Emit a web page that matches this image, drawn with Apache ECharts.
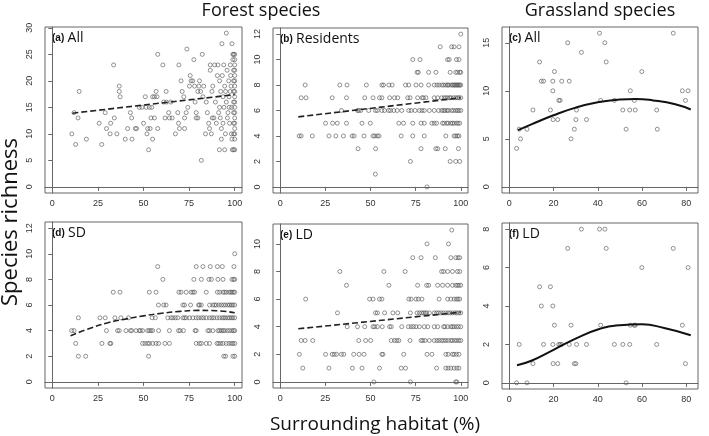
<!DOCTYPE html>
<html>
<head>
<meta charset="utf-8">
<script src="https://cdn.jsdelivr.net/npm/echarts@6/dist/echarts.min.js"></script>
<style>
  html, body {margin: 0; padding: 0; background: #fff;}
  #main {width: 709px; height: 436px;}
</style>
</head>
<body>
<div id="main"></div>
<script>
// forest sites: surrounding habitat (%) vs species richness
var forestAll = [
  [10.7,10],[12.8,8],[14.1,13],[14.7,18],[11.9,14],[18.7,9],[25.7,12],[27.1,8],[29,14],[29.7,11],
  [31.7,10],[32,12],[33.6,23],[34,13],[35.4,10],[36.7,19],[36.7,18],[37.2,17],[40,9],[41.3,11],
  [42.8,14],[43.5,13],[43.7,9],[45.5,11],[46.2,11],[47.7,15],[49.2,15],[50,12],[51,17],[51.4,15],
  [51.9,10],[52.3,11],[52.8,7],[53.2,15],[53.6,11],[54.1,13],[54.5,15],[55,9],[55,17],[56,17],
  [56.9,18],[57.4,17],[57.8,25],[57.8,11],[56,13],[60.6,23],[61.8,13],[62.4,18],[61,16],[62.6,16],
  [63.8,14],[64.2,13],[65.7,13],[65,16],[67.5,10],[68.8,14],[69.2,12],[69.4,23],[69.7,11],[70.6,20],
  [71.2,18],[72.1,17],[72.5,11],[72.5,13],[73.4,14],[73.8,26],[74.3,15],[75.2,19],[75.6,21],[76.1,20],
  [77,20],[77.6,24],[78,19],[78.3,16],[78.9,13],[78.9,14],[79.8,13],[79.8,18],[80.4,19],[80.7,20],
  [81.3,18],[81.7,5],[82.2,25],[82.6,17],[83,19],[84,10],[84.4,16],[85,14],[85.7,12],[86.2,11],
  [86.6,22],[86.6,23],[87.2,10],[87.5,18],[87.7,13],[88,19],[88.6,13],[89,23],[89.4,16],[89.9,12],
  [90.5,21],[90.8,23],[91.2,14],[91.6,7],[91.7,20],[91.7,15],[92.1,13],[92.3,18],[92.7,11],[92.7,9],
  [93,27],[93.2,21],[93.6,17],[93.6,12],[94,23],[94.1,15],[94.5,7],[94.5,19],[94.9,10],[95,18],
  [95.4,29],[95.4,16],[95.8,22],[96,13],[96.3,14],[96.7,20],[96.9,17],[97.2,12],[97.6,23],[97.8,21],
  [98,19],[98.2,10],[98.3,15],[98.5,27],[98.5,9],[98.7,7],[99,25],[99,24],[97,15],[97.5,18],
  [99.4,22],[99.4,20],[99.4,18],[99.4,16],[99.4,14],[99.4,12],[99.4,10],[99.4,7],[99.4,25],
  [100,7],[100,9],[100,10],[100,11],[100,12],[100,13],[100,14],[100,15],[100,16],[100,17],
  [100,18],[100,19],[100,20],[100,21],[100,22],[100,23],[100,24],[100,25]
];
var forestResidents = [
  [100,12],[88.6,11],[94.9,11],[96.3,11],[99,11],
  [73.4,10],[77.4,10],[92.7,10],[93.6,10],[97.6,10],[99,10],
  [75.8,9],[76.5,9],[82.2,9],[86.2,9],[94.1,9],[97.2,9],[98.2,9],[99.4,9],[100,9],
  [13.8,8],[33,8],[37,8],[47.7,8],[56.3,8],[57.2,8],[60.2,8],[62,8],[69.4,8],[71.2,8],[75.2,8],[78,8],
  [82.2,8],[85.3,8],[86.8,8],[88,8],[89.5,8],[90.5,8],[91.7,8],[92.7,8],[93.2,8],[94.5,8],[95.4,8],
  [96,8],[96.7,8],[97.2,8],[97.8,8],[98.3,8],[98.9,8],[99.4,8],[100,8],
  [11.6,7],[14.3,7],[28.8,7],[36.7,7],[46.8,7],[51.4,7],[55,7],[56.3,7],[60.6,7],[63.3,7],[65.1,7],
  [70.6,7],[71.9,7],[76.1,7],[78.5,7],[79.3,7],[80.7,7],[85.3,7],[87.2,7],[89.4,7],[90.8,7],[91.7,7],
  [92.7,7],[93.9,7],[94.5,7],[96,7],[97.2,7],[98.2,7],[99,7],[100,7],
  [33.9,6],[42.8,6],[43.5,6],[44.6,6],[49,6],[52.8,6],[53.8,6],[56.3,6],[57.8,6],[60,6],[61.1,6],
  [62.9,6],[64.8,6],[67.3,6],[71.2,6],[72.5,6],[74.7,6],[77.1,6],[78.5,6],[79.8,6],[82.6,6],[85.3,6],
  [87.7,6],[89.4,6],[90.5,6],[91.2,6],[92.3,6],[93.2,6],[94.9,6],[96,6],[97.2,6],[98.2,6],[99,6],[100,6],
  [25.1,5],[29,5],[31.6,5],[36.7,5],[45.3,5],[49.9,5],[65.7,5],[68.3,5],[73.4,5],[78,5],[79.8,5],
  [84,5],[85.3,5],[86.6,5],[89.9,5],[90.8,5],[92.3,5],[93,5],[94.5,5],[95.4,5],[96.3,5],[97.6,5],
  [98.5,5],[99.4,5],
  [10.5,4],[11.6,4],[17.8,4],[27,4],[30.8,4],[35,4],[39.8,4],[40.9,4],[46.4,4],[51.4,4],[52.3,4],
  [53.8,4],[54.7,4],[67,4],[73.4,4],[79.8,4],[91.7,4],[96.3,4],[97.2,4],[98.2,4],[99,4],
  [43.1,3],[52.8,3],[78,3],[86.2,3],[87.2,3],[91.4,3],[98.7,3],
  [72.1,2],[94.1,2],[97.2,2],[99.4,2],
  [52.7,1],[81.3,0]
];
var forestSD = [
  [100,10],
  [57.8,9],[78.9,9],[82.6,9],[86.6,9],[90.5,9],[93.2,9],[99.6,9],
  [60.6,8],[77.6,8],[81.7,8],[85.9,8],[87.2,8],[90.8,8],[93.6,8],[98.5,8],[99.4,8],[100,8],
  [33.4,7],[37.1,7],[53.2,7],[56.9,7],[69.4,7],[70.6,7],[73.4,7],[76.1,7],[77.1,7],[78,7],[84.4,7],
  [90.5,7],[91.7,7],[93.6,7],[94.5,7],[95.4,7],[96.9,7],[97.8,7],[98.5,7],[99.3,7],[100,7],
  [58.2,6],[61.1,6],[62.4,6],[71.6,6],[72.5,6],[75.8,6],[80.2,6],[80.7,6],[81.7,6],[86.2,6],[88,6],
  [89,6],[89.9,6],[91.4,6],[92.7,6],[93.9,6],[95,6],[96.3,6],[97.2,6],[98.2,6],[99,6],[100,6],
  [14.3,5],[26.1,5],[29,5],[34.3,5],[37.6,5],[41.8,5],[54.7,5],[56.5,5],[63.3,5],[65.1,5],[66.1,5],
  [67.5,5],[68.8,5],[71.6,5],[72.5,5],[73.4,5],[75.2,5],[77.1,5],[78.9,5],[80.2,5],[81.7,5],[82.9,5],
  [84.4,5],[86.2,5],[87.5,5],[88.6,5],[90.3,5],[91.7,5],[93.2,5],[94.1,5],[95,5],[96.3,5],[97.2,5],
  [98.2,5],[99,5],[100,5],
  [10.6,4],[11.9,4],[29.7,4],[35.8,4],[36.7,4],[40.4,4],[42.8,4],[43.5,4],[45.9,4],[47.7,4],[48.3,4],
  [49.5,4],[52.3,4],[53.2,4],[54.1,4],[55,4],[58.3,4],[64.2,4],[69.2,4],[70.1,4],[71.9,4],[78.3,4],
  [78.9,4],[85.3,4],[86.2,4],[88,4],[90.8,4],[91.7,4],[92.7,4],[93.6,4],[94.5,4],[96,4],[97.2,4],
  [98.5,4],[99.4,4],[100,4],
  [12.8,3],[27.2,3],[31.6,3],[32.1,3],[49.5,3],[50.8,3],[52.3,3],[53.2,3],[55,3],[56.9,3],[58.3,3],
  [61.8,3],[64.2,3],[78.9,3],[80.7,3],[81.7,3],[84.4,3],[86.2,3],[90.3,3],[91.2,3],[92.3,3],[93.6,3],
  [95.4,3],[96.9,3],[98.2,3],[99,3],[100,3],
  [14.3,2],[18.3,2],[52.8,2],[94,2],[95,2],[99,2],[100,2]
];
var forestLD = [
  [95,11],[81.3,10],[93.2,10],
  [73.4,9],[78,9],[85.9,9],[94.5,9],[97.2,9],[98.5,9],[99.4,9],
  [33,8],[57.4,8],[69.2,8],[89.4,8],[90.5,8],[92.7,8],[95.4,8],[98.2,8],[99.4,8],
  [36.7,7],[60.2,7],[76.1,7],[81.1,7],[82.2,7],[87.2,7],[89.9,7],[92.7,7],[95.4,7],[97.2,7],[98.2,7],
  [99,7],[100,7],
  [14.1,6],[49.5,6],[51.4,6],[55,6],[56.3,6],[71.2,6],[72.5,6],[75.2,6],[76.5,6],[78.5,6],[88,6],
  [92.7,6],[94.5,6],[96.3,6],[97.6,6],[98.5,6],[99.4,6],
  [31.7,5],[52.8,5],[53.8,5],[57.8,5],[62.4,5],[65.1,5],[72.1,5],[75.8,5],[77.1,5],[78.3,5],[79.3,5],
  [80.2,5],[81.1,5],[82.6,5],[85.3,5],[86.6,5],[87.7,5],[89,5],[90.3,5],[91.7,5],[93,5],[94.1,5],
  [95.4,5],[96.7,5],[97.8,5],[99,5],[100,5],
  [37.1,4],[42.8,4],[46.8,4],[51.4,4],[52.3,4],[53.8,4],[56.5,4],[60.6,4],[61.5,4],[67.3,4],[71,4],
  [72.5,4],[73.8,4],[75.2,4],[77.1,4],[79.8,4],[81.7,4],[85.3,4],[87.2,4],[90.5,4],[91.2,4],[92.7,4],
  [94.5,4],[95.4,4],[96.3,4],[97.6,4],[98.7,4],[100,4],
  [11.6,3],[13.8,3],[18,3],[43.5,3],[47.3,3],[50.1,3],[61.5,3],[63.3,3],[64.6,3],[65.7,3],[71.9,3],
  [78,3],[78.9,3],[80.2,3],[82.6,3],[85.3,3],[86.8,3],[88,3],[89.4,3],[90.5,3],[91.7,3],[93,3],
  [94.5,3],[95.4,3],[96.7,3],[97.8,3],[99,3],[100,3],
  [10.6,2],[25.1,2],[28.8,2],[29.9,2],[31.2,2],[33.9,2],[35.2,2],[40.7,2],[43.7,2],[46.4,2],[56.3,2],
  [56.9,2],[68.4,2],[81.3,2],[84,2],[91.7,2],[93,2],[95.4,2],[96.3,2],[97.6,2],[99,2],
  [12.5,1],[27,1],[40,1],[45.3,1],[55,1],[67,1],[69.4,1],[86.6,1],[91.7,1],[93,1],[94.5,1],[96.3,1],
  [97.8,1],[99,1],
  [51.9,0],[72.1,0],[97.2,0],[97.8,0]
];

// grassland sites
var grassAll = [
  [3.3,4],[4.5,6],[5.1,5],[8,6],[10.7,8],[13.7,13],[14.5,11],[15.5,11],[18.6,8],[19.7,10],[19.7,11],
  [19.8,7],[20.4,12],[21.9,7],[22.4,9],[23,9],[23.7,11],[26.4,15],[27.1,11],[27.9,5],[29.4,6],[30.1,7],
  [30.4,8],[32.6,14],[34.9,7],[40.8,16],[41.3,9],[43.2,15],[43.8,13],[47.5,9],[51.3,8],[52.8,6],
  [54.4,8],[54.7,10],[56.5,9],[56.9,8],[59.9,12],[66.6,8],[66.9,6],[74.1,16],[78.2,10],[79.6,9],[80.8,10]
];
var grassLD = [
  [3.3,0],[4.5,2],[8,0],[10.7,1],[13.7,5],[14.5,4],[15.5,2],[18.6,5],[19.7,4],[19.7,2],[19.8,1],
  [20.4,3],[21.9,1],[22.4,2],[23,2],[23.7,2],[26.4,7],[27.1,2],[27.9,3],[29.4,1],[30.1,1],[30.4,2],
  [32.6,8],[34.9,2],[40.8,8],[41.3,3],[43.2,8],[43.8,7],[47.5,2],[51.3,2],[52.8,0],[54.4,2],[54.7,3],
  [56.5,3],[56.9,3],[59.9,6],[66.6,2],[74.1,7],[78.2,3],[79.6,1],[80.8,6]
];

// fitted lines
var fitForestAll = [[11,13.9],[100,17.4]];
var fitResidents = [[10,5.5],[100,7.0]];
var fitSD = [[10,3.6],[20,4.15],[30,4.6],[40,4.9],[50,5.15],[60,5.35],[70,5.5],[80,5.58],[90,5.55],[100,5.4]];
var fitForestLD = [[10,3.85],[100,5.05]];
var fitGrassAll = [[4,5.9],[10,6.5],[20,7.45],[30,8.25],[40,8.8],[50,9.1],[57,9.15],[65,9.0],[75,8.6],[82,8.05]];
var fitGrassLD = [[3.5,0.92],[10,1.15],[20,1.72],[30,2.3],[40,2.78],[50,3.0],[60,3.05],[70,2.85],[82,2.48]];

var forestTicks = [0, 25, 50, 75, 100];
var grassTicks = [0, 20, 40, 60, 80];

var panels = [
  {tag: '(a)', name: 'All', pts: forestAll, fit: fitForestAll, dashed: true, grid: [45, 27, 197, 166],
    x: [-4, 104], xt: forestTicks, y: [-1.16, 30.16], yt: [0, 5, 10, 15, 20, 25, 30]},
  {tag: '(b)', name: 'Residents', pts: forestResidents, fit: fitResidents, dashed: true, grid: [273, 28, 195, 165],
    x: [-4, 104], xt: forestTicks, y: [-0.48, 12.48], yt: [0, 2, 4, 6, 8, 10, 12]},
  {tag: '(c)', name: 'All', pts: grassAll, fit: fitGrassAll, dashed: false, grid: [502, 27, 196, 166],
    x: [-3.28, 85.28], xt: grassTicks, y: [-0.64, 16.64], yt: [0, 5, 10, 15]},
  {tag: '(d)', name: 'SD', pts: forestSD, fit: fitSD, dashed: true, grid: [45, 222, 197, 166],
    x: [-4, 104], xt: forestTicks, y: [-0.48, 12.48], yt: [0, 2, 4, 6, 8, 10, 12]},
  {tag: '(e)', name: 'LD', pts: forestLD, fit: fitForestLD, dashed: true, grid: [273, 224, 195, 164],
    x: [-4, 104], xt: forestTicks, y: [-0.44, 11.44], yt: [0, 2, 4, 6, 8, 10]},
  {tag: '(f)', name: 'LD', pts: grassLD, fit: fitGrassLD, dashed: false, grid: [502, 223, 196, 166],
    x: [-3.28, 85.28], xt: grassTicks, y: [-0.32, 8.32], yt: [0, 2, 4, 6, 8]}
];

var tickFont = {fontFamily: 'Liberation Sans', fontSize: 9, color: '#333'};
var grids = [], xAxes = [], yAxes = [], series = [], labels = [];

panels.forEach(function (p, i) {
  grids.push({left: p.grid[0], top: p.grid[1], width: p.grid[2], height: p.grid[3],
    show: true, borderColor: '#666', borderWidth: 1, backgroundColor: 'transparent'});
  xAxes.push({type: 'value', gridIndex: i, min: p.x[0], max: p.x[1],
    axisLine: {show: true, lineStyle: {color: '#666'}},
    axisTick: {show: true, length: 4, customValues: p.xt, lineStyle: {color: '#666'}},
    axisLabel: Object.assign({customValues: p.xt, margin: 6}, tickFont),
    splitLine: {show: false}});
  yAxes.push({type: 'value', gridIndex: i, min: p.y[0], max: p.y[1],
    axisLine: {show: true, lineStyle: {color: '#666'}},
    axisTick: {show: true, length: 4, customValues: p.yt, lineStyle: {color: '#666'}},
    axisLabel: Object.assign({customValues: p.yt, margin: 11, rotate: 90}, tickFont),
    splitLine: {show: false}});
  series.push({type: 'scatter', xAxisIndex: i, yAxisIndex: i, data: p.pts,
    symbol: 'circle', symbolSize: 4,
    itemStyle: {color: 'rgba(255,255,255,0)', borderColor: '#555', borderWidth: 0.8},
    silent: true});
  series.push({type: 'line', xAxisIndex: i, yAxisIndex: i, data: p.fit,
    smooth: !p.dashed || p.fit.length > 2, showSymbol: false, silent: true, z: 3,
    lineStyle: p.dashed ? {color: '#222', width: 1.6, type: [6, 3]} : {color: '#111', width: 2}});
  labels.push({type: 'text', left: p.grid[0] + 7, top: p.grid[1] + 4,
    style: {text: '{t|' + p.tag + '} {n|' + p.name + '}',
      rich: {t: {fontFamily: 'Liberation Sans', fontWeight: 'bold', fontSize: 10, fill: '#111'},
             n: {fontFamily: 'Open Sans', fontSize: 14, fill: '#111'}}}});
});

var chart = echarts.init(document.getElementById('main'), null, {renderer: 'canvas'});
chart.setOption({
  animation: false,
  backgroundColor: '#fff',
  grid: grids,
  xAxis: xAxes,
  yAxis: yAxes,
  series: series,
  graphic: labels.concat([
    {type: 'text', x: 261, y: 11, style: {text: 'Forest species', fontFamily: 'Open Sans', fontSize: 18,
      fill: '#111', textAlign: 'center', textVerticalAlign: 'middle'}},
    {type: 'text', x: 600, y: 11, style: {text: 'Grassland species', fontFamily: 'Open Sans', fontSize: 18,
      fill: '#111', textAlign: 'center', textVerticalAlign: 'middle'}},
    {type: 'text', x: 11, y: 222, rotation: Math.PI / 2, style: {text: 'Species richness', fontFamily: 'Open Sans',
      fontSize: 22, fill: '#111', textAlign: 'center', textVerticalAlign: 'middle'}},
    {type: 'text', x: 375, y: 425, style: {text: 'Surrounding habitat (%)', fontFamily: 'Open Sans', fontSize: 19,
      fill: '#111', textAlign: 'center', textVerticalAlign: 'middle'}}
  ])
});
</script>
</body>
</html>
